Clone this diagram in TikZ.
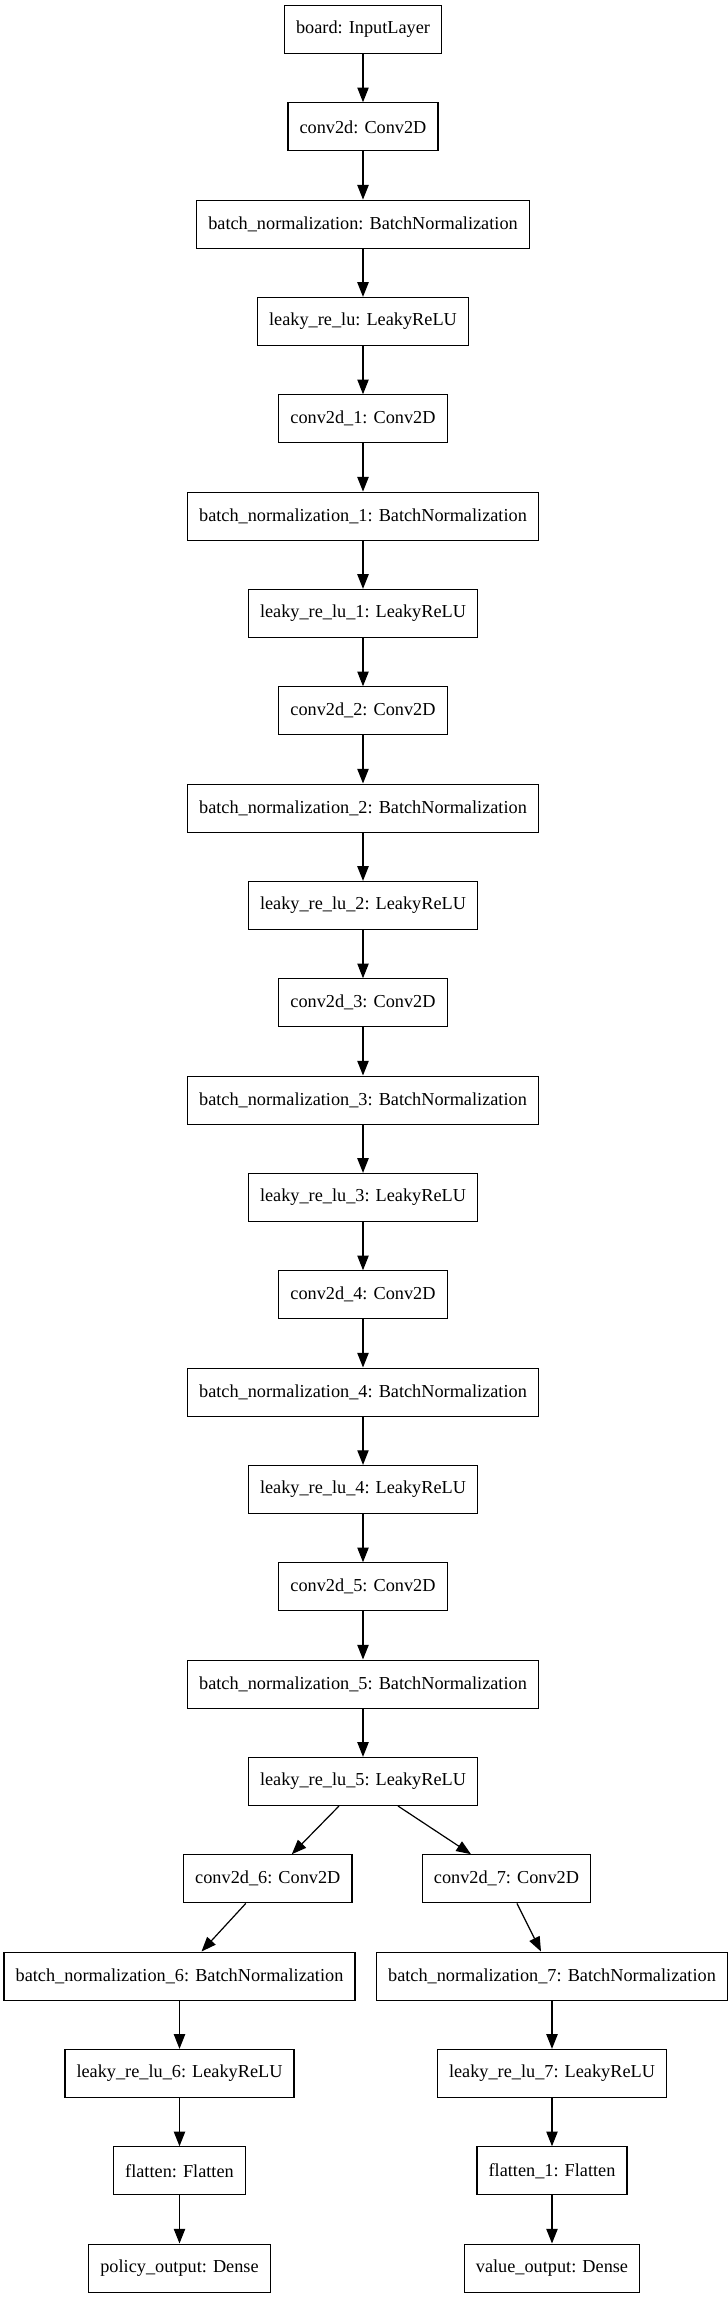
\documentclass[tikz,border=0pt]{standalone}
\usepackage{fontspec}
\setmainfont{Liberation Serif}
\usepackage{tikz}
\usetikzlibrary{arrows.meta}

\tikzset{
  layer/.style={draw, line width=0.9pt, minimum height=36pt, inner xsep=8.7pt,
    font=\fontsize{13.7}{16}\selectfont},
  arr/.style={line width=0.9pt, -{Triangle[length=11pt,width=8.5pt]}}
}

\begin{document}
\begin{tikzpicture}[x=0.75pt, y=-0.75pt]

\useasboundingbox (0,0) rectangle (728,2299);

% Input and first block
\node[layer] (board) at (363,29.5) {board: InputLayer};
\node[layer] (conv0) at (363,126.8) {conv2d: Conv2D};
\node[layer] (bn0) at (363,224.2) {batch\_normalization: BatchNormalization};
\node[layer] (lr0) at (363,321.5) {leaky\_re\_lu: LeakyReLU};

% Block 1
\node[layer] (conv1) at (363,418.8) {conv2d\_1: Conv2D};
\node[layer] (bn1) at (363,516.2) {batch\_normalization\_1: BatchNormalization};
\node[layer] (lr1) at (363,613.5) {leaky\_re\_lu\_1: LeakyReLU};

% Block 2
\node[layer] (conv2) at (363,710.8) {conv2d\_2: Conv2D};
\node[layer] (bn2) at (363,808.1) {batch\_normalization\_2: BatchNormalization};
\node[layer] (lr2) at (363,905.5) {leaky\_re\_lu\_2: LeakyReLU};

% Block 3
\node[layer] (conv3) at (363,1002.8) {conv2d\_3: Conv2D};
\node[layer] (bn3) at (363,1100.1) {batch\_normalization\_3: BatchNormalization};
\node[layer] (lr3) at (363,1197.5) {leaky\_re\_lu\_3: LeakyReLU};

% Block 4
\node[layer] (conv4) at (363,1294.8) {conv2d\_4: Conv2D};
\node[layer] (bn4) at (363,1392.1) {batch\_normalization\_4: BatchNormalization};
\node[layer] (lr4) at (363,1489.5) {leaky\_re\_lu\_4: LeakyReLU};

% Block 5
\node[layer] (conv5) at (363,1586.8) {conv2d\_5: Conv2D};
\node[layer] (bn5) at (363,1684.1) {batch\_normalization\_5: BatchNormalization};
\node[layer] (lr5) at (363,1781.4) {leaky\_re\_lu\_5: LeakyReLU};

% Policy head
\node[layer] (conv6) at (267.8,1878.8) {conv2d\_6: Conv2D};
\node[layer] (bn6) at (179.5,1976.1) {batch\_normalization\_6: BatchNormalization};
\node[layer] (lr6) at (179.5,2073.4) {leaky\_re\_lu\_6: LeakyReLU};
\node[layer] (flat0) at (179.5,2170.8) {flatten: Flatten};
\node[layer] (policy) at (179.5,2268.1) {policy\_output: Dense};

% Value head
\node[layer] (conv7) at (506.5,1878.8) {conv2d\_7: Conv2D};
\node[layer] (bn7) at (552,1976.1) {batch\_normalization\_7: BatchNormalization};
\node[layer] (lr7) at (552,2073.4) {leaky\_re\_lu\_7: LeakyReLU};
\node[layer] (flat1) at (552,2170.8) {flatten\_1: Flatten};
\node[layer] (value) at (552,2268.1) {value\_output: Dense};

% Trunk edges
\draw[arr] (board) -- (conv0);
\draw[arr] (conv0) -- (bn0);
\draw[arr] (bn0) -- (lr0);
\draw[arr] (lr0) -- (conv1);
\draw[arr] (conv1) -- (bn1);
\draw[arr] (bn1) -- (lr1);
\draw[arr] (lr1) -- (conv2);
\draw[arr] (conv2) -- (bn2);
\draw[arr] (bn2) -- (lr2);
\draw[arr] (lr2) -- (conv3);
\draw[arr] (conv3) -- (bn3);
\draw[arr] (bn3) -- (lr3);
\draw[arr] (lr3) -- (conv4);
\draw[arr] (conv4) -- (bn4);
\draw[arr] (bn4) -- (lr4);
\draw[arr] (lr4) -- (conv5);
\draw[arr] (conv5) -- (bn5);
\draw[arr] (bn5) -- (lr5);

% Split into the two heads
\draw[arr] ([shift={(-24,0)}]lr5.south) -- ([shift={(24,0)}]conv6.north);
\draw[arr] ([shift={(35,0)}]lr5.south) -- ([shift={(-35.5,0)}]conv7.north);
\draw[arr] ([shift={(-22,0)}]conv6.south) -- ([shift={(22,0)}]bn6.north);
\draw[arr] ([shift={(10.5,0)}]conv7.south) -- ([shift={(-11,0)}]bn7.north);

% Head edges
\draw[arr] (bn6) -- (lr6);
\draw[arr] (lr6) -- (flat0);
\draw[arr] (flat0) -- (policy);
\draw[arr] (bn7) -- (lr7);
\draw[arr] (lr7) -- (flat1);
\draw[arr] (flat1) -- (value);

\end{tikzpicture}
\end{document}
